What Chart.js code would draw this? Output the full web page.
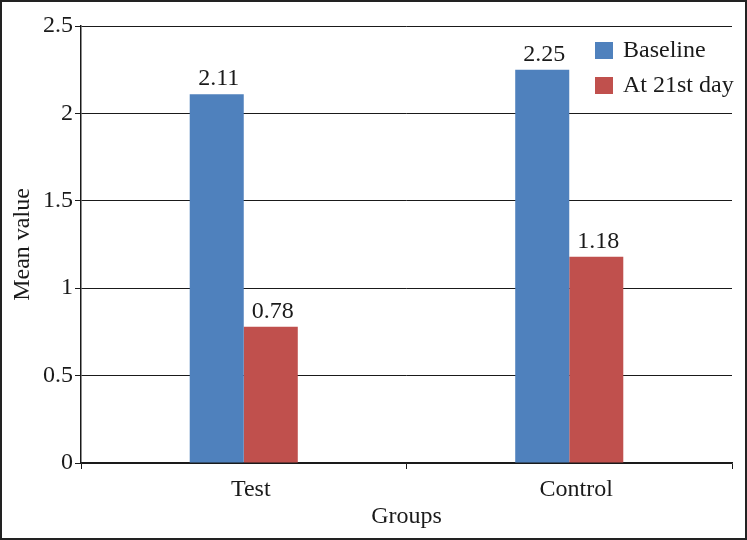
<!DOCTYPE html>
<html>
<head>
<meta charset="utf-8">
<script src="https://cdn.jsdelivr.net/npm/chart.js@4/dist/chart.umd.min.js"></script>
<style>
html,body{margin:0;padding:0;background:#fff;}
#wrap{width:747px;height:540px;position:relative;}
</style>
</head>
<body>
<div id="wrap"><canvas id="c" width="747" height="540"></canvas></div>
<script>
const categories = ["Test", "Control"];
const seriesNames = ["Baseline", "At 21st day"];
const baselineValues = [2.11, 2.25];
const day21Values = [0.78, 1.18];
const yTicks = [0, 0.5, 1, 1.5, 2, 2.5];

const FONT = "'Liberation Serif', 'Times New Roman', serif";
const FS = 24;
const colors = ["#4F81BD", "#C0504D"];

const borderPlugin = {
  id: 'outerBorder',
  afterDraw(chart) {
    const ctx = chart.ctx;
    ctx.save();
    ctx.strokeStyle = '#222';
    ctx.lineWidth = 2;
    ctx.strokeRect(1, 1, chart.width - 2, chart.height - 2);
    ctx.restore();
  }
};

const valueLabels = {
  id: 'valueLabels',
  afterDatasetsDraw(chart) {
    const ctx = chart.ctx;
    ctx.save();
    ctx.font = FS + "px " + FONT;
    ctx.fillStyle = '#1a1a1a';
    ctx.textAlign = 'center';
    ctx.textBaseline = 'alphabetic';
    chart.data.datasets.forEach((ds, i) => {
      const meta = chart.getDatasetMeta(i);
      meta.data.forEach((bar, j) => {
        ctx.fillText(ds.data[j].toFixed(2), bar.x + 2, bar.y - 9);
      });
    });
    ctx.restore();
  }
};

const customLegend = {
  id: 'customLegend',
  afterDraw(chart) {
    const ctx = chart.ctx;
    ctx.save();
    ctx.font = FS + "px " + FONT;
    ctx.textBaseline = 'middle';
    ctx.textAlign = 'left';
    chart.data.datasets.forEach((ds, i) => {
      const y = 50 + i * 35;
      ctx.fillStyle = ds.backgroundColor;
      ctx.fillRect(595, y - 8, 18, 17);
      ctx.fillStyle = '#1a1a1a';
      ctx.fillText(ds.label, 623, y + 1);
    });
    ctx.restore();
  }
};

new Chart(document.getElementById('c'), {
  type: 'bar',
  data: {
    labels: categories,
    datasets: [
      { label: seriesNames[0], data: baselineValues, backgroundColor: colors[0] },
      { label: seriesNames[1], data: day21Values, backgroundColor: colors[1] }
    ]
  },
  options: {
    responsive: false,
    animation: false,
    devicePixelRatio: 1,
    layout: { padding: { top: 26, right: 15, bottom: 9, left: 8 } },
    datasets: { bar: { categoryPercentage: 0.332, barPercentage: 1.0 } },
    plugins: {
      legend: { display: false },
      tooltip: { enabled: false }
    },
    scales: {
      x: {
        offset: true,
        grid: { offset: true, drawOnChartArea: false, drawTicks: true, tickLength: 6, color: '#1a1a1a', lineWidth: 1 },
        border: { display: true, color: '#1a1a1a', width: 1.5 },
        ticks: { font: { family: FONT, size: FS }, color: '#1a1a1a', padding: 6, labelOffset: 7 },
        title: { display: true, text: 'Groups', font: { family: FONT, size: FS }, color: '#1a1a1a', padding: { top: 4, bottom: 0 } },
        afterFit(scale) { scale.height = 68; }
      },
      y: {
        min: 0, max: 2.5,
        afterBuildTicks(scale) { scale.ticks = yTicks.map(v => ({ value: v })); },
        grid: { color: '#1a1a1a', lineWidth: 1, tickLength: 6, drawTicks: true },
        border: { display: true, color: '#1a1a1a', width: 1.5 },
        ticks: { font: { family: FONT, size: FS }, color: '#1a1a1a', padding: 2, callback: v => String(v) },
        title: { display: true, text: 'Mean value', font: { family: FONT, size: FS }, color: '#1a1a1a', padding: { top: 0, bottom: 4 } },
        afterFit(scale) { scale.width = 73; }
      }
    }
  },
  plugins: [valueLabels, customLegend, borderPlugin]
});
</script>
</body>
</html>
